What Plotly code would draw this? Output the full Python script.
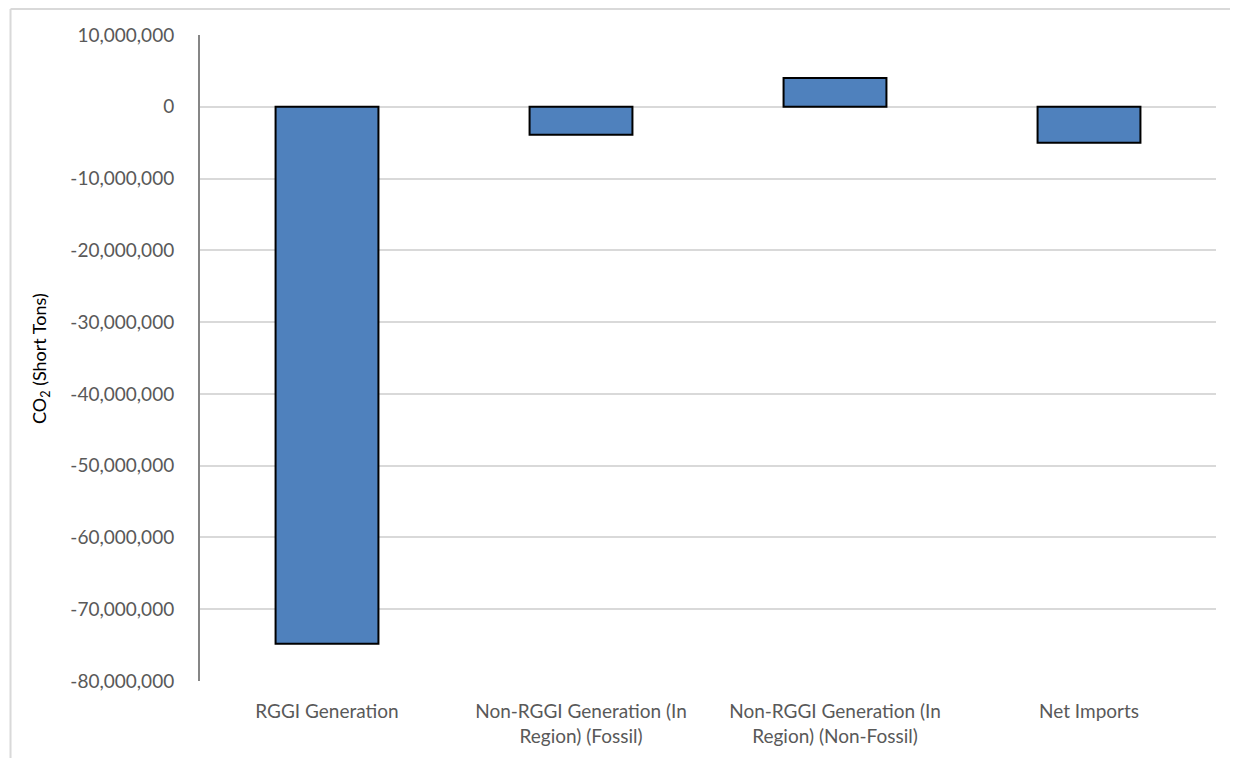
import plotly.graph_objects as go

categories = ["RGGI Generation",
              "Non-RGGI Generation (In<br>Region) (Fossil)",
              "Non-RGGI Generation (In<br>Region) (Non-Fossil)",
              "Net Imports"]
values = [-74_800_000, -3_900_000, 4_000_000, -5_000_000]
tick_vals = list(range(-80_000_000, 10_000_001, 10_000_000))
tick_text = [f"{v:,}" for v in tick_vals]

fig = go.Figure(go.Bar(
    x=categories, y=values,
    marker=dict(color="#4F81BD", line=dict(color="#000000", width=2)),
))

font_family = "Lato, 'Open Sans', sans-serif"
# page body has an 8px margin, so the figure is shrunk and margins shifted by 8px
fig.update_layout(
    width=1230, height=750,
    margin=dict(l=192, r=22, t=27, b=77),
    paper_bgcolor="white", plot_bgcolor="white",
    bargap=0.595,
    showlegend=False,
    font=dict(family=font_family, size=19, color="#595959"),
    xaxis=dict(showgrid=False, showline=False, zeroline=False,
               tickfont=dict(size=19, color="#595959"),
               ticklabelstandoff=17),
    yaxis=dict(range=[-80_000_000, 10_000_000], tickvals=tick_vals, ticktext=tick_text,
               showgrid=True, gridcolor="#D9D9D9", gridwidth=2,
               zeroline=False, showline=True, linecolor="#868686", linewidth=2,
               tickfont=dict(size=19, color="#595959"), ticklabelstandoff=20),
    shapes=[
        dict(type="line", xref="paper", yref="paper", x0=-0.1865, x1=1.05, y0=1.0402, y1=1.0402,
             line=dict(color="#D9D9D9", width=2)),
        dict(type="line", xref="paper", yref="paper", x0=-0.1865, x1=-0.1865, y0=1.0402, y1=-0.2,
             line=dict(color="#D9D9D9", width=2)),
    ],
    annotations=[dict(text="CO<sub>2</sub> (Short Tons)", xref="paper", yref="paper",
                      x=-0.1575, y=0.5, xanchor="center", yanchor="middle",
                      textangle=-90, showarrow=False,
                      font=dict(size=18, color="#000000", family=font_family))],
)

fig.write_html("out.html")
